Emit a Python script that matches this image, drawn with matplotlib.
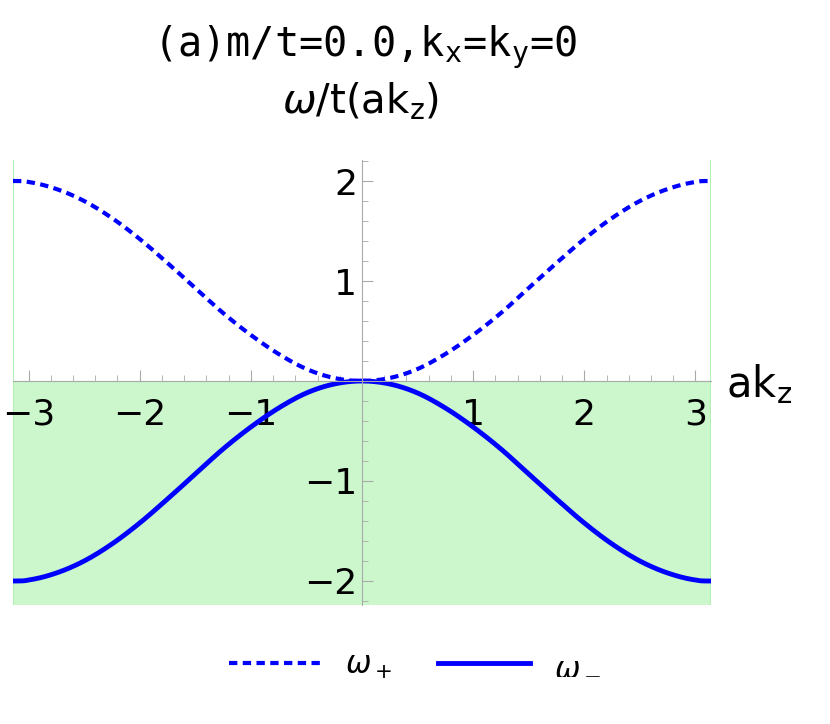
import numpy as np
import matplotlib
matplotlib.use("Agg")
import matplotlib.pyplot as plt
from matplotlib.ticker import MultipleLocator

k = [-3.14, -3.0, -2.75, -2.5, -2.25, -2.0, -1.75, -1.5, -1.25, -1.0, -0.75, -0.5, -0.25, 0.0,
     0.25, 0.5, 0.75, 1.0, 1.25, 1.5, 1.75, 2.0, 2.25, 2.5, 2.75, 3.0, 3.14]
w_plus = [2.0, 1.99, 1.92, 1.80, 1.63, 1.42, 1.18, 0.93, 0.68, 0.46, 0.27, 0.12, 0.03, 0.0,
          0.03, 0.12, 0.27, 0.46, 0.68, 0.93, 1.18, 1.42, 1.63, 1.80, 1.92, 1.99, 2.0]
w_minus = [-v for v in w_plus]
xticks = [-3, -2, -1, 1, 2, 3]
yticks = [-2, -1, 1, 2]

def smooth(x, y, n=20):
    x = np.asarray(x); y = np.asarray(y)
    X, Y = [], []
    for i in range(len(x) - 1):
        p0 = y[max(i - 1, 0)]; p1 = y[i]; p2 = y[i + 1]; p3 = y[min(i + 2, len(y) - 1)]
        t = np.linspace(0, 1, n, endpoint=False)
        Y.extend(0.5 * (2 * p1 + (-p0 + p2) * t + (2 * p0 - 5 * p1 + 4 * p2 - p3) * t**2 + (-p0 + 3 * p1 - 3 * p2 + p3) * t**3))
        X.extend(x[i] + (x[i + 1] - x[i]) * t)
    X.append(x[-1]); Y.append(y[-1])
    return np.array(X), np.array(Y)

fig = plt.figure(figsize=(8.3, 7.24), dpi=100)
ax = fig.add_axes([13/830, 119/724, 698/830, 445/724])
ax.set_xlim(-3.14, 3.14)
ax.set_ylim(-2.24, 2.21)
ax.axhspan(-2.24, 0, color="#ccf7cc", zorder=0)
ax.axvline(-3.14, color="#b3eeb3", lw=1.5, zorder=0)
ax.axvline(3.14, color="#b3eeb3", lw=1.5, zorder=0)

xs, ys = smooth(k, w_plus)
ax.plot(xs, ys, color="#0000ff", lw=3, ls=(0, (2, 1.3)), label=r"$\omega_+$")
xs, ys = smooth(k, w_minus)
ax.plot(xs, ys, color="#0000ff", lw=3.5, label=r"$\omega_-$")

for s in ["top", "right"]:
    ax.spines[s].set_visible(False)
ax.spines["left"].set_position(("data", 0))
ax.spines["bottom"].set_position(("data", 0))
for s in ["left", "bottom"]:
    ax.spines[s].set_color("#aaaaaa")
ax.set_xticks(xticks)
ax.set_yticks(yticks)
ax.xaxis.set_minor_locator(MultipleLocator(0.2))
ax.yaxis.set_minor_locator(MultipleLocator(0.2))
ax.tick_params(which="major", length=8, color="#aaaaaa", labelsize=26, direction="in")
ax.tick_params(which="minor", length=4, color="#aaaaaa", direction="in")
ax.set_xticklabels(["\u22123", "\u22122", "\u22121", "1", "2", "3"])
ax.set_yticklabels(["\u22122", "\u22121", "1", "2"])
ax.tick_params(axis="x", pad=12)

fig.text(0.44, 0.935, r"(a)m/t=0.0,k$_\mathregular{x}$=k$_\mathregular{y}$=0", ha="center", va="center",
         fontsize=29, family="DejaVu Sans Mono")
fig.text(0.435, 0.86, r"$\omega$/t(ak$_\mathregular{z}$)", ha="center", va="center", fontsize=29, family="DejaVu Sans")
fig.text(0.915, 0.47, r"ak$_\mathregular{z}$", ha="center", va="center", fontsize=30)
fig.legend(loc="center", bbox_to_anchor=(0.5, 0.08), ncol=2, frameon=False, fontsize=22,
           handlelength=3, columnspacing=1.5)
fig.savefig("out.png")
